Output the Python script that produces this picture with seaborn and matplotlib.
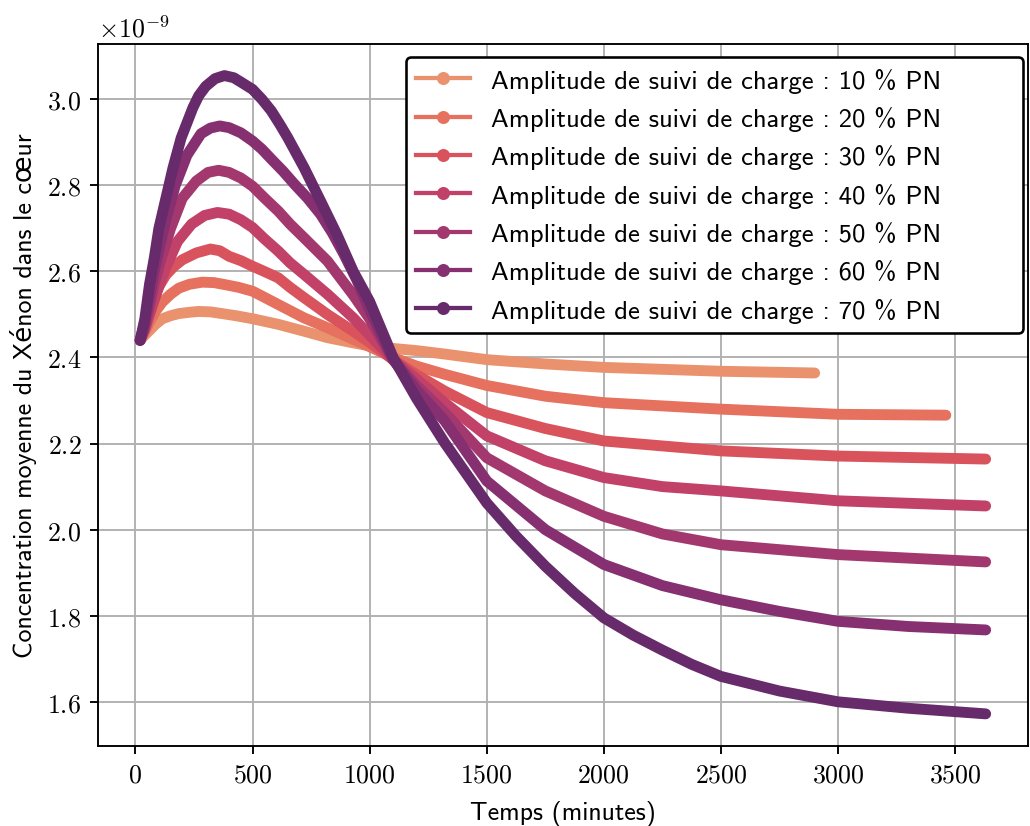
import numpy as np
import pandas as pd
import matplotlib
matplotlib.use("Agg")
import matplotlib.pyplot as plt
from matplotlib.lines import Line2D
import seaborn as sns

# Xenon mean concentration (x 1e-9) vs time (minutes), one series per load-follow amplitude
AMPLITUDES = [10, 20, 30, 40, 50, 60, 70]

T10 = [20, 40, 60, 85, 115, 150, 185, 230, 270, 320, 370, 430, 500, 610, 720, 820, 930, 1000, 1100, 1200,
       1320, 1500, 1750, 2000, 2500, 2900]
C10 = [2.44, 2.452, 2.463, 2.477, 2.490, 2.497, 2.502, 2.505, 2.507, 2.506, 2.502, 2.497, 2.490, 2.477, 2.461,
       2.446, 2.434, 2.427, 2.421, 2.416, 2.408, 2.395, 2.385, 2.377, 2.368, 2.364]

T20 = [20, 40, 60, 85, 115, 150, 185, 230, 285, 335, 385, 440, 500, 550, 610, 720, 820, 930, 1000, 1100, 1200,
       1320, 1500, 1750, 2000, 2500, 3000, 3460]
C20 = [2.44, 2.46, 2.482, 2.507, 2.529, 2.547, 2.561, 2.570, 2.575, 2.574, 2.569, 2.563, 2.554, 2.540, 2.523,
       2.492, 2.469, 2.442, 2.425, 2.40, 2.38, 2.361, 2.335, 2.31, 2.295, 2.280, 2.268, 2.266]

T30 = [20, 45, 75, 100, 130, 165, 200, 260, 320, 360, 400, 450, 500, 550, 610, 660, 720, 820, 930, 1000, 1100,
       1200, 1320, 1500, 1750, 2000, 2500, 3000, 3630]
C30 = [2.44, 2.485, 2.529, 2.565, 2.592, 2.612, 2.627, 2.643, 2.652, 2.648, 2.635, 2.625, 2.612, 2.60, 2.585,
       2.563, 2.539, 2.500, 2.461, 2.435, 2.395, 2.36, 2.322, 2.272, 2.235, 2.206, 2.183, 2.171, 2.164]

T40 = [20, 40, 60, 90, 130, 180, 240, 295, 350, 400, 450, 500, 550, 610, 660, 720, 820, 930, 1000, 1100, 1200,
       1320, 1500, 1750, 2000, 2250, 2500, 3000, 3630]
C40 = [2.44, 2.465, 2.50, 2.55, 2.61, 2.67, 2.71, 2.73, 2.737, 2.733, 2.72, 2.702, 2.676, 2.647, 2.62, 2.593,
       2.547, 2.492, 2.452, 2.395, 2.35, 2.295, 2.218, 2.16, 2.121, 2.10, 2.090, 2.067, 2.055]

T50 = [20, 40, 60, 80, 110, 150, 200, 260, 310, 355, 400, 450, 500, 550, 610, 660, 720, 820, 930, 1000, 1100,
       1200, 1320, 1500, 1750, 2000, 2250, 2500, 3000, 3630]
C50 = [2.44, 2.47, 2.52, 2.57, 2.63, 2.70, 2.77, 2.81, 2.83, 2.835, 2.830, 2.817, 2.798, 2.771, 2.740, 2.71,
       2.678, 2.624, 2.545, 2.49, 2.395, 2.335, 2.272, 2.167, 2.09, 2.031, 1.99, 1.965, 1.942, 1.925]

T60 = [20, 40, 60, 80, 100, 130, 170, 220, 280, 320, 360, 400, 450, 500, 540, 580, 630, 680, 735, 790, 840, 890,
       945, 1000, 1100, 1200, 1320, 1500, 1750, 2000, 2250, 2500, 2750, 3000, 3300, 3630]
C60 = [2.44, 2.48, 2.54, 2.60, 2.65, 2.72, 2.80, 2.87, 2.92, 2.933, 2.938, 2.934, 2.922, 2.903, 2.884, 2.861,
       2.833, 2.802, 2.77, 2.733, 2.69, 2.64, 2.58, 2.51, 2.395, 2.325, 2.253, 2.113, 2.00, 1.919, 1.87, 1.837,
       1.81, 1.787, 1.775, 1.767]

T70 = [20, 40, 60, 80, 100, 130, 160, 195, 245, 270, 300, 340, 380, 420, 450, 500, 540, 580, 615, 650, 720, 790,
       860, 930, 1000, 1100, 1200, 1320, 1500, 1625, 1750, 1875, 2000, 2125, 2250, 2375, 2500, 2750, 3000, 3300,
       3630]
C70 = [2.44, 2.49, 2.57, 2.63, 2.70, 2.77, 2.84, 2.91, 2.98, 3.008, 3.03, 3.048, 3.055, 3.05, 3.04, 3.023, 3.0,
       2.973, 2.943, 2.911, 2.841, 2.764, 2.686, 2.60, 2.53, 2.40, 2.305, 2.202, 2.062, 1.985, 1.915, 1.852,
       1.795, 1.755, 1.72, 1.687, 1.659, 1.625, 1.600, 1.585, 1.572]

TIMES = [T10, T20, T30, T40, T50, T60, T70]
CONCS = [C10, C20, C30, C40, C50, C60, C70]


def build_frame():
    rows = []
    for amp, t, c in zip(AMPLITUDES, TIMES, CONCS):
        label = f"Amplitude de suivi de charge : {amp} % PN"
        for ti, ci in zip(t, c):
            rows.append({"temps": ti, "conc": ci * 1e-9, "serie": label})
    return pd.DataFrame(rows)


def main():
    df = build_frame()
    labels = list(df["serie"].unique())
    colors = sns.color_palette("flare", len(labels))

    plt.rcParams["font.family"] = ["cmr10", "DejaVu Sans"]
    plt.rcParams["mathtext.fontset"] = "cm"
    plt.rcParams["axes.formatter.use_mathtext"] = True
    plt.rcParams["font.size"] = 11
    sans = ["cmss10", "DejaVu Sans"]

    fig, ax = plt.subplots(figsize=(1030 / 170, 827 / 170), dpi=170)
    fig.subplots_adjust(left=0.095, right=0.998, bottom=0.097, top=0.946)

    sns.lineplot(data=df, x="temps", y="conc", hue="serie", palette=colors, estimator=None,
                 sort=False, lw=4.6, solid_capstyle="round", solid_joinstyle="round",
                 legend=False, ax=ax, zorder=3)

    ax.grid(True, color="#b0b0b0", lw=0.8, zorder=0)
    ax.set_axisbelow(True)
    ax.set_xlabel("Temps (minutes)", family=sans, fontsize=11, labelpad=6)
    ax.set_ylabel("Concentration moyenne du Xénon dans le cœur", family=sans, fontsize=11)
    ax.set_xticks([0, 500, 1000, 1500, 2000, 2500, 3000, 3500])

    # legend box stretched like the reference (extra room on the right)
    handles = [Line2D([0], [0], color=col, lw=1.8, marker="o", ms=4.5) for col in colors]
    leg = ax.legend(handles, labels, loc="upper right", bbox_to_anchor=(0.331, 0.583, 0.664, 0.398),
                    mode="expand", prop={"family": sans, "size": 11.3}, framealpha=1, fancybox=True,
                    borderaxespad=0.0, labelspacing=0.5)
    leg.get_frame().set_edgecolor("black")
    leg.get_frame().set_linewidth(1.1)

    fig.savefig("out.png", dpi=170)
    plt.close(fig)


if __name__ == "__main__":
    main()
